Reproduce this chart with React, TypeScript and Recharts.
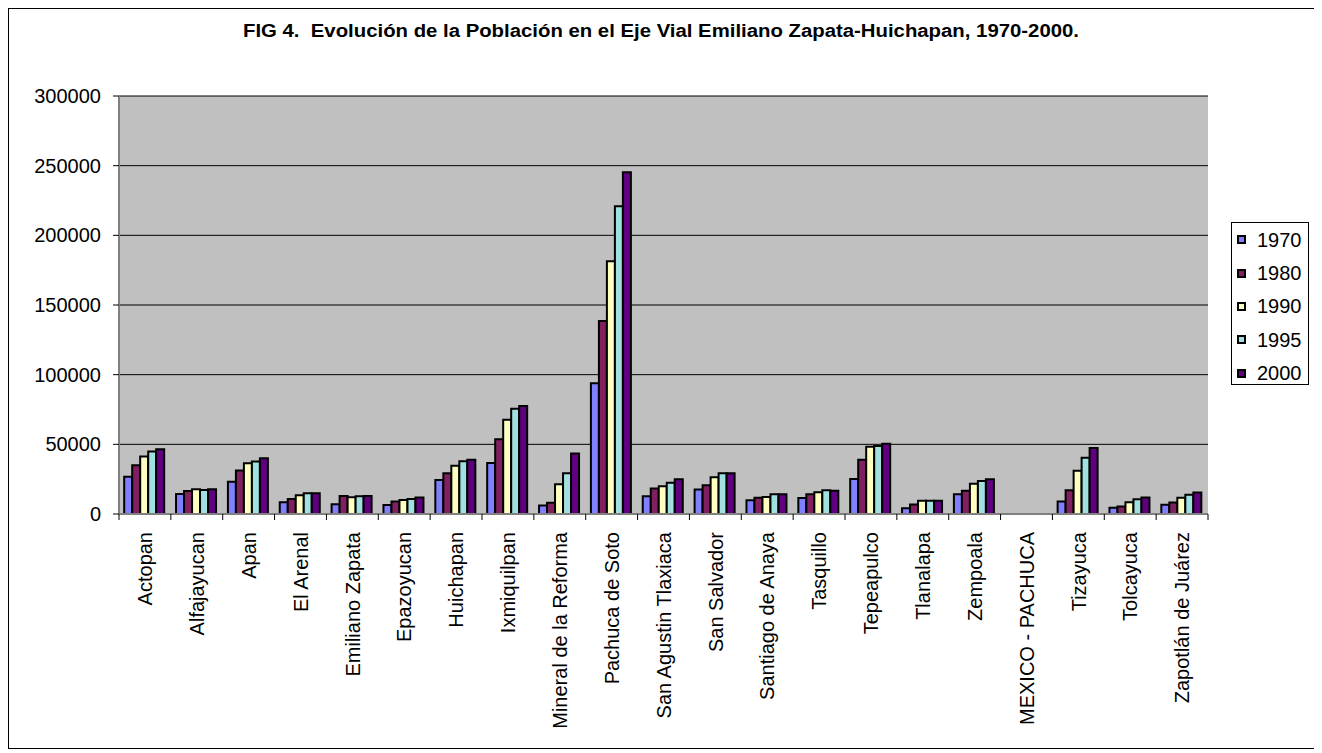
import React from 'react';
import { BarChart, Bar, XAxis, YAxis, CartesianGrid, Legend } from 'recharts';

const municipios = [
  'Actopan', 'Alfajayucan', 'Apan', 'El Arenal', 'Emiliano Zapata', 'Epazoyucan',
  'Huichapan', 'Ixmiquilpan', 'Mineral de la Reforma', 'Pachuca de Soto',
  'San Agustin Tlaxiaca', 'San Salvador', 'Santiago de Anaya', 'Tasquillo',
  'Tepeapulco', 'Tlanalapa', 'Zempoala', 'MEXICO - PACHUCA', 'Tizayuca',
  'Tolcayuca', 'Zapotlán de Juárez',
];

const pop1970 = [26800, 14400, 23200, 8400, 7000, 6500, 24400, 36600, 6100, 93900, 12700, 17600, 9800, 11500, 25100, 4100, 14100, 0, 9000, 4400, 6600];
const pop1980 = [35000, 16500, 31200, 10800, 13000, 8900, 29300, 53700, 8100, 138600, 18300, 20700, 11700, 14100, 39000, 6800, 16600, 0, 17000, 5300, 8300];
const pop1990 = [41200, 17800, 36500, 13400, 12000, 10100, 34600, 67600, 21400, 181400, 20000, 26400, 12200, 15600, 48300, 9500, 21700, 0, 31000, 8500, 11700];
const pop1995 = [44800, 17300, 37700, 14900, 12700, 10800, 37800, 75600, 29300, 220800, 22400, 29300, 14100, 17100, 48800, 9500, 23700, 0, 40300, 10500, 13900];
const pop2000 = [46500, 17800, 40100, 14900, 13000, 11800, 39000, 77600, 43400, 245200, 24900, 29300, 14100, 16600, 50500, 9500, 24900, 0, 47300, 11900, 15400];

const years = ['1970', '1980', '1990', '1995', '2000'];
const colors = ['#8080FF', '#802060', '#FFFFC0', '#A0E0E0', '#600080'];
const yTicks = [0, 50000, 100000, 150000, 200000, 250000, 300000];

const seriesValues = [pop1970, pop1980, pop1990, pop1995, pop2000];

const data = municipios.map((name, i) => {
  const row: Record<string, string | number> = { name };
  years.forEach((yr, s) => {
    row[yr] = seriesValues[s][i];
  });
  return row;
});

const FONT = '"Liberation Sans", Arial, sans-serif';
const CHART_W = 1308;
const CHART_H = 739;
const Y_AXIS_W = 110;
const RIGHT_MARGIN = 109;
const TOP_MARGIN = 87;
const X_AXIS_H = 234;
const BAND = (CHART_W - Y_AXIS_W - RIGHT_MARGIN) / municipios.length;

const CategoryTick = (props: any) => {
  const { x, y, payload } = props;
  const half = BAND / 2;
  const isLast = payload.value === municipios[municipios.length - 1];
  return (
    <g>
      <line x1={x - half} x2={x - half} y1={y} y2={y + 6} stroke="#000" />
      {isLast && <line x1={x + half} x2={x + half} y1={y} y2={y + 6} stroke="#000" />}
      <text
        transform={`translate(${x},${y}) rotate(-90)`}
        x={-18}
        y={0}
        dy="0.36em"
        textAnchor="end"
        fontSize={20}
        fontFamily={FONT}
        fill="#000"
      >
        {payload.value}
      </text>
    </g>
  );
};

const renderLegend = () => (
  <div
    style={{
      border: '1px solid #000',
      background: '#fff',
      width: 78,
      height: 163,
      boxSizing: 'border-box',
      paddingLeft: 5,
      fontFamily: FONT,
    }}
  >
    {years.map((yr, i) => (
      <div key={yr} style={{ display: 'flex', alignItems: 'center', height: 33.4 }}>
        <span
          style={{
            display: 'inline-block',
            width: 9,
            height: 9,
            boxSizing: 'border-box',
            background: colors[i],
            border: '2px solid #000',
          }}
        />
        <span style={{ marginLeft: 11, fontSize: 20, color: '#000', lineHeight: 1 }}>{yr}</span>
      </div>
    ))}
  </div>
);

export default function App() {
  return (
    <div
      style={{
        position: 'relative',
        width: CHART_W,
        height: CHART_H,
        border: '1px solid #000',
        background: '#fff',
      }}
    >
      <svg width={CHART_W} height={50} style={{ position: 'absolute', left: 0, top: 0 }}>
        <text
          x={652}
          y={28}
          textAnchor="middle"
          fontFamily={FONT}
          fontWeight="bold"
          fontSize={18}
          textLength={836}
          lengthAdjust="spacingAndGlyphs"
          fill="#000"
          style={{ whiteSpace: 'pre' }}
        >
          {'FIG 4.  Evolución de la Población en el Eje Vial Emiliano Zapata-Huichapan, 1970-2000.'}
        </text>
      </svg>
      <BarChart
        width={CHART_W}
        height={CHART_H}
        data={data}
        margin={{ top: TOP_MARGIN, right: RIGHT_MARGIN, bottom: 0, left: 0 }}
        barCategoryGap="10%"
        barGap={0}
      >
        <CartesianGrid vertical={false} stroke="#000" fill="#C0C0C0" fillOpacity={1} />
        <XAxis
          dataKey="name"
          interval={0}
          height={X_AXIS_H}
          tickSize={0}
          tickMargin={0}
          tick={<CategoryTick />}
          axisLine={{ stroke: '#808080', strokeWidth: 2 }}
        />
        <XAxis
          xAxisId="top"
          dataKey="name"
          orientation="top"
          height={0}
          tick={false}
          tickLine={false}
          axisLine={{ stroke: '#808080', strokeWidth: 2 }}
        />
        <YAxis
          width={Y_AXIS_W}
          domain={[0, 300000]}
          ticks={yTicks}
          interval={0}
          tickSize={6}
          tickMargin={12}
          tick={{ fontSize: 20, fill: '#000', fontFamily: FONT }}
          tickLine={{ stroke: '#000' }}
          axisLine={{ stroke: '#808080', strokeWidth: 2 }}
        />
        <YAxis
          yAxisId="right"
          orientation="right"
          width={0}
          domain={[0, 300000]}
          tick={false}
          tickLine={false}
          axisLine={{ stroke: '#808080', strokeWidth: 2 }}
        />
        {years.map((yr, i) => (
          <Bar
            key={yr}
            dataKey={yr}
            name={yr}
            fill={colors[i]}
            stroke="#000"
            strokeWidth={2}
            isAnimationActive={false}
          />
        ))}
        <Legend
          layout="vertical"
          align="center"
          verticalAlign="middle"
          content={renderLegend}
          wrapperStyle={{ position: 'absolute', left: 1222, top: 213, width: 78 }}
        />
      </BarChart>
    </div>
  );
}
